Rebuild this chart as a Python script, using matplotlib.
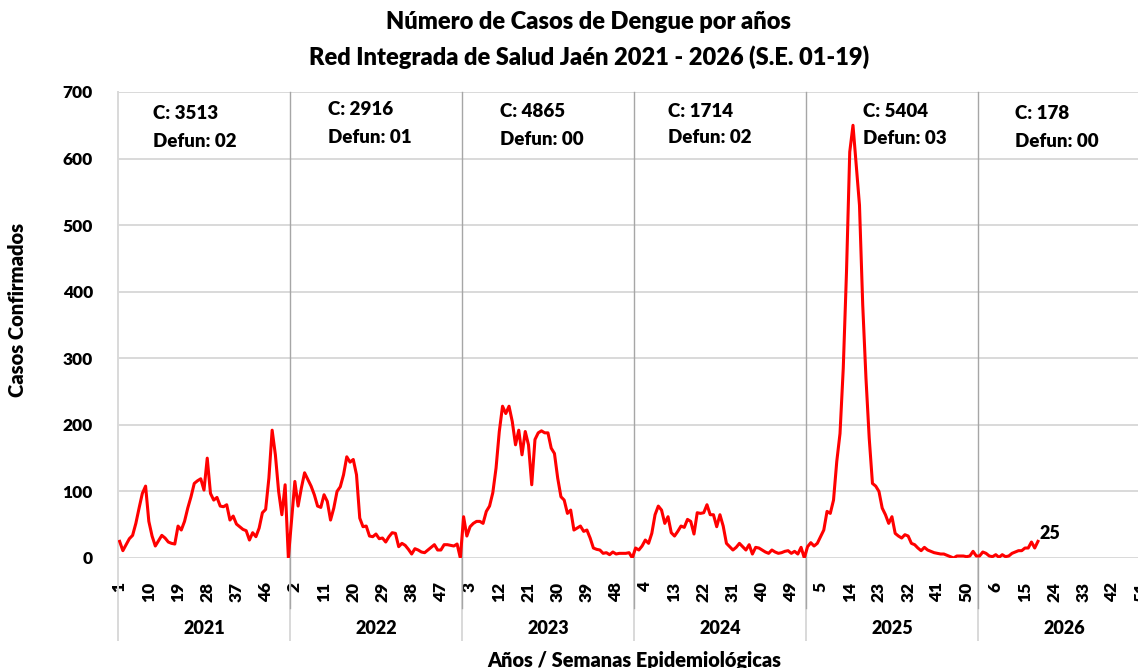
"""
    Dengue cases per epidemiological week, Red Integrada de Salud Jaen 2021-2026
"""
import numpy as np
import matplotlib
matplotlib.use("Agg")
import matplotlib.pyplot as plt
import matplotlib.transforms as mtransforms

plt.rcParams['font.family'] = ['Lato', 'DejaVu Sans']

years = ["2021", "2022", "2023", "2024", "2025", "2026"]
weeks_per_year = 53

cases_2021 = [25, 11, 20, 29, 34, 52, 75, 97, 108, 55,
              33, 18, 26, 34, 30, 24, 22, 21, 48, 42,
              55, 75, 92, 112, 116, 119, 102, 150, 97, 87,
              91, 78, 77, 80, 57, 63, 51, 47, 43, 41,
              27, 38, 32, 45, 68, 73, 120, 192, 155, 100,
              65, 110, 0]
cases_2022 = [57, 115, 78, 105, 128, 118, 108, 95, 78, 76,
              95, 85, 57, 75, 100, 107, 125, 152, 144, 148,
              125, 60, 47, 48, 33, 32, 36, 29, 30, 24,
              32, 38, 37, 17, 22, 19, 13, 6, 14, 12,
              9, 8, 12, 16, 20, 12, 12, 20, 20, 19,
              18, 21, 0]
cases_2023 = [62, 33, 47, 52, 55, 55, 52, 70, 78, 98,
              135, 190, 228, 217, 228, 205, 170, 192, 155, 190,
              170, 110, 178, 188, 191, 188, 188, 165, 157, 120,
              92, 87, 67, 72, 42, 45, 48, 40, 42, 30,
              15, 13, 12, 7, 8, 5, 9, 6, 7, 7,
              7, 8, 0]
cases_2024 = [15, 12, 18, 27, 22, 37, 65, 78, 72, 52,
              62, 38, 33, 40, 48, 46, 58, 55, 36, 68,
              67, 68, 80, 65, 65, 47, 65, 48, 22, 17,
              12, 16, 22, 17, 12, 20, 6, 16, 15, 12,
              9, 7, 12, 9, 7, 8, 10, 11, 7, 10,
              6, 16, 0]
cases_2025 = [17, 23, 18, 22, 32, 42, 70, 67, 87, 145,
              187, 285, 430, 610, 650, 590, 530, 380, 270, 180,
              112, 108, 100, 75, 65, 52, 62, 37, 33, 30,
              35, 33, 22, 20, 15, 11, 16, 12, 10, 8,
              7, 6, 6, 4, 2, 0, 3, 3, 3, 2,
              3, 10, 3]
cases_2026 = [3, 9, 7, 3, 2, 5, 1, 5, 2, 3,
              7, 9, 11, 11, 15, 15, 24, 15, 25]

totals = ["C: 3513", "C: 2916", "C: 4865", "C: 1714", "C: 5404", "C: 178"]
deaths = ["Defun: 02", "Defun: 01", "Defun: 00", "Defun: 02", "Defun: 03", "Defun: 00"]

all_years = [cases_2021, cases_2022, cases_2023, cases_2024, cases_2025, cases_2026]

# label positions (category index, value) for the yearly summaries
note_x = [10.8, 64.7, 117.7, 169.5, 229.6, 276.4]
note_y1 = [668, 674, 671, 671, 670, 668]
note_y2 = [625, 631, 628, 631, 630, 626]

W, H = 1138, 668
fig = plt.figure(figsize=(W / 100, H / 100), dpi=100)
n_cat = weeks_per_year * len(years)
ax = fig.add_axes([118 / W, 1 - 558 / H, n_cat * 3.245 / W, (558 - 92) / H])

xs = []
ys = []
for k, vals in enumerate(all_years):
    xs.extend(k * weeks_per_year + np.arange(len(vals)) + 0.5)
    ys.extend(vals)
ax.plot(xs, ys, color="#FF0000", lw=2.2, solid_joinstyle="round", zorder=3)

ax.set_xlim(0, n_cat)
ax.set_ylim(0, 700)
ax.set_yticks(range(0, 701, 100))
ax.yaxis.grid(True, color="#d9d9d9", lw=1.4)
ax.set_axisbelow(True)
for s in ["top", "right", "bottom"]:
    ax.spines[s].set_visible(False)
ax.spines["left"].set_color("#d9d9d9")
ax.spines["left"].set_linewidth(1.4)
ax.tick_params(axis="y", length=0, pad=18, labelsize=12.5)
for lab in ax.get_yticklabels():
    lab.set_fontweight("heavy")

ticks = np.arange(0, n_cat, 9)
ax.set_xticks(ticks + 0.5)
ax.set_xticklabels([str(t % weeks_per_year + 1) for t in ticks],
                   rotation=90, fontweight="heavy", fontsize=12.5, va="top")
ax.tick_params(axis="x", length=0, pad=17)

# multi-level category axis separators
tr = mtransforms.blended_transform_factory(ax.transData, ax.transAxes)
ax_h = 558 - 92
for k in range(len(years) + 1):
    ax.plot([k * weeks_per_year] * 2, [0, -82 / ax_h], transform=tr,
            color="#d9d9d9", lw=1.4, clip_on=False)
for k in range(1, len(years)):
    ax.plot([k * weeks_per_year] * 2, [1.0, -50 / ax_h], transform=tr,
            color="#a6a6a6", lw=1.0, clip_on=False, zorder=2)
for k, yr in enumerate(years):
    ax.text(k * weeks_per_year + weeks_per_year / 2, -(628 - 558) / ax_h, yr,
            transform=tr, ha="center", va="center", fontsize=13, fontweight="heavy")

for k in range(len(years)):
    ax.text(note_x[k], note_y1[k], totals[k], ha="left", va="center",
            fontsize=13.5, fontweight="heavy")
    ax.text(note_x[k], note_y2[k], deaths[k], ha="left", va="center",
            fontsize=13.5, fontweight="heavy")

ax.annotate(str(cases_2026[-1]), xy=(xs[-1], ys[-1]), xytext=(1, 6),
            textcoords="offset points", ha="left", va="center",
            fontsize=13, fontweight="heavy")

fig.text(589 / W, 1 - 22 / H, "Número de Casos de Dengue por años",
         ha="center", va="center", fontsize=17, fontweight="heavy")
fig.text(589 / W, 1 - 57 / H, "Red Integrada de Salud Jaén 2021 - 2026 (S.E. 01-19)",
         ha="center", va="center", fontsize=17, fontweight="heavy")
fig.text(18 / W, 1 - 310 / H, "Casos Confirmados", rotation=90,
         ha="center", va="center", fontsize=14.5, fontweight="heavy")
fig.text(634 / W, 1 - 661 / H, "Años / Semanas Epidemiológicas",
         ha="center", va="center", fontsize=14.3, fontweight="heavy")

fig.savefig("out.png", dpi=100)
